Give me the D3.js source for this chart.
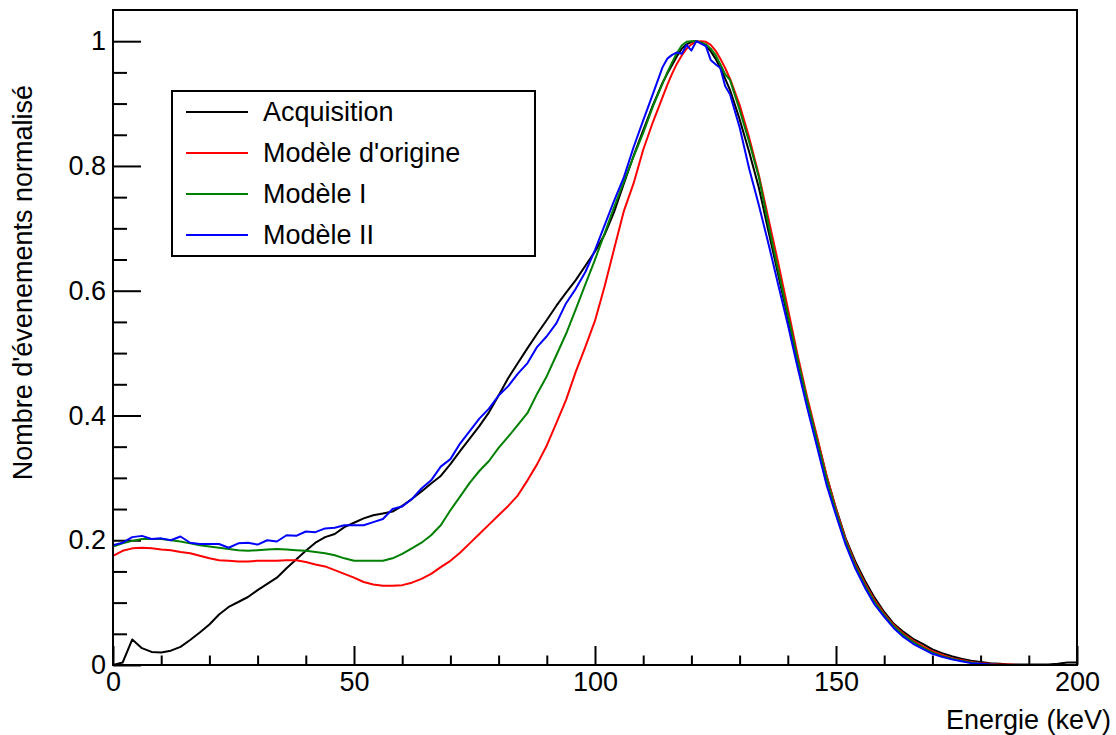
<!DOCTYPE html>
<html>
<head>
<meta charset="utf-8">
<script src="https://cdn.jsdelivr.net/npm/d3@7"></script>
<style>
  html, body { margin: 0; padding: 0; background: #fff; }
  svg { display: block; font-family: "Liberation Sans", Arial, Helvetica, sans-serif; }
  .tick text { font-size: 27px; fill: #000; }
</style>
</head>
<body>
<svg id="chart" width="1116" height="735"></svg>
<script>
// Energy grid (keV): 2 keV bins, 1 keV around the photopeak
const energy = [
  0,2,4,6,8,10,12,14,16,18,20,22,24,26,28,30,32,34,36,38,40,42,44,46,48,50,52,54,56,58,
  60,62,64,66,68,70,72,74,76,78,80,82,84,86,88,90,92,94,96,98,100,102,104,106,108,110,112,
  114,115,116,117,118,119,120,121,122,123,124,125,126,127,
  128,130,132,134,136,138,140,142,144,146,148,150,152,154,156,158,160,162,164,166,168,170,
  172,174,176,178,180,182,184,186,188,190,192,194,196,198,200
];

const acquisition = [
  0,0.004,0.041,0.027,0.021,0.020,0.023,0.029,0.040,0.052,0.065,0.081,0.093,0.101,0.109,0.120,0.130,0.140,0.155,0.169,
  0.183,0.196,0.205,0.210,0.221,0.228,0.235,0.240,0.243,0.246,
  0.255,0.266,0.278,0.291,0.303,0.322,0.343,0.363,0.383,0.405,0.432,0.460,0.484,0.508,0.531,0.553,0.576,0.597,0.617,0.640,
  0.663,0.690,0.727,0.772,0.816,0.857,0.897,
  0.933,0.948,0.962,0.976,0.988,0.995,0.999,1.0,0.998,0.993,0.984,0.972,0.957,0.940,
  0.922,0.875,0.822,0.765,0.695,0.626,0.557,0.489,0.425,0.366,0.304,0.251,0.203,0.166,0.135,0.108,0.085,0.066,0.053,0.042,0.034,0.025,
  0.019,0.014,0.010,0.007,0.005,0.003,0.002,0.001,0.001,0.001,0.001,0.001,0.002,0.004,0.004
];

const modeleOrigine = [
  0.175,0.183,0.187,0.188,0.187,0.185,0.184,0.181,0.179,0.175,0.171,0.168,0.167,0.166,0.166,0.167,0.167,0.167,0.168,0.168,
  0.165,0.161,0.158,0.152,0.146,0.140,0.133,0.129,0.127,0.127,
  0.128,0.132,0.138,0.146,0.157,0.167,0.180,0.195,0.210,0.225,0.240,0.255,0.272,0.296,0.322,0.352,0.388,0.425,0.470,0.510,
  0.552,0.607,0.668,0.728,0.772,0.826,0.870,
  0.910,0.930,0.948,0.964,0.977,0.988,0.995,0.999,1.0,0.999,0.994,0.985,0.972,0.957,
  0.940,0.898,0.845,0.785,0.715,0.645,0.572,0.498,0.430,0.368,0.305,0.250,0.201,0.162,0.131,0.104,0.082,0.064,0.050,0.039,0.030,0.022,
  0.016,0.011,0.008,0.005,0.003,0.002,0.001,0.001,0,0,0,0,0,0,0
];

const modeleI = [
  0.190,0.195,0.199,0.202,0.202,0.202,0.200,0.198,0.195,0.192,0.190,0.188,0.186,0.184,0.183,0.184,0.185,0.186,0.185,0.184,
  0.183,0.181,0.179,0.176,0.171,0.167,0.167,0.167,0.167,0.171,
  0.178,0.187,0.196,0.208,0.224,0.248,0.270,0.292,0.311,0.327,0.348,0.366,0.385,0.404,0.435,0.463,0.497,0.531,0.570,0.610,
  0.650,0.692,0.735,0.775,0.815,0.853,0.895,
  0.932,0.950,0.966,0.981,0.993,0.999,1.0,1.0,0.998,0.995,0.988,0.978,0.963,0.947,
  0.938,0.890,0.838,0.782,0.705,0.633,0.562,0.491,0.425,0.362,0.300,0.246,0.198,0.159,0.128,0.101,0.080,0.062,0.048,0.037,0.028,0.020,
  0.014,0.010,0.007,0.004,0.002,0.001,0,0,0,0,0,0,0,0,0
];

const modeleII = [
  0.192,0.196,0.205,0.207,0.202,0.203,0.200,0.206,0.196,0.194,0.194,0.194,0.188,0.195,0.196,0.193,0.200,0.198,0.208,0.207,
  0.214,0.213,0.219,0.220,0.224,0.224,0.224,0.229,0.234,0.250,
  0.254,0.266,0.283,0.296,0.318,0.330,0.355,0.375,0.395,0.411,0.432,0.447,0.467,0.484,0.510,0.527,0.548,0.580,0.603,0.630,
  0.665,0.705,0.745,0.782,0.830,0.873,0.915,
  0.958,0.972,0.978,0.982,0.980,0.994,0.985,1.0,0.996,0.992,0.970,0.963,0.957,0.928,
  0.915,0.862,0.795,0.737,0.675,0.610,0.546,0.478,0.413,0.352,0.290,0.240,0.193,0.155,0.124,0.097,0.077,0.059,0.045,0.034,0.026,0.018,
  0.013,0.009,0.006,0.003,0.002,0.001,0,0,0,0,0,0,0,0,0
];

const seriesNames = ["Acquisition", "Modèle d'origine", "Modèle I", "Modèle II"];
const seriesColors = ["#000000", "#ff0000", "#008000", "#0000ff"];
const seriesValues = [acquisition, modeleOrigine, modeleI, modeleII];

const xMajorTicks = [0, 50, 100, 150, 200];
const yMajorTicks = [0, 0.2, 0.4, 0.6, 0.8, 1];
const xTitle = "Energie (keV)";
const yTitle = "Nombre d'évenements normalisé";

(function draw() {
  const svg = d3.select("#chart");
  const plotLeft = 113, plotRight = 1077, plotTop = 10, plotBottom = 665;
  const fontSize = 27;

  const x = d3.scaleLinear().domain([0, 200]).range([plotLeft, plotRight]);
  const y = d3.scaleLinear().domain([0, 1.05]).range([plotBottom, plotTop]);

  // minor ticks: every 10 keV on x, every 0.05 on y
  const xMinor = d3.range(0, 201, 10).filter(v => v % 50 !== 0);
  const yMinor = d3.range(0, 21).map(i => i * 0.05).filter((v, i) => i % 4 !== 0);

  const fmtY = v => (v === 0 || v === 1) ? String(v) : d3.format(".1f")(v);

  function styleAxis(g) {
    g.select(".domain").remove();
    g.selectAll(".tick line").attr("stroke", "#000").attr("stroke-width", 2);
    g.attr("font-family", null).attr("font-size", null);
  }

  svg.append("g").attr("transform", `translate(0,${plotBottom})`)
    .call(d3.axisBottom(x).tickValues(xMinor).tickFormat("").tickSize(-9.5))
    .call(styleAxis);
  svg.append("g").attr("transform", `translate(0,${plotBottom})`)
    .call(d3.axisBottom(x).tickValues(xMajorTicks).tickFormat(d3.format("d")).tickSize(-19).tickPadding(7))
    .call(styleAxis);

  svg.append("g").attr("transform", `translate(${plotLeft},0)`)
    .call(d3.axisLeft(y).tickValues(yMinor).tickFormat("").tickSize(-14))
    .call(styleAxis);
  svg.append("g").attr("transform", `translate(${plotLeft},0)`)
    .call(d3.axisLeft(y).tickValues(yMajorTicks).tickFormat(fmtY).tickSize(-28).tickPadding(7))
    .call(styleAxis);

  // curves
  const plot = svg.append("g");
  const line = d3.line().x((d, i) => x(energy[i])).y(d => y(d));
  seriesValues.forEach((vals, k) => {
    plot.append("path")
      .datum(vals)
      .attr("fill", "none")
      .attr("stroke", seriesColors[k])
      .attr("stroke-width", 2)
      .attr("stroke-linejoin", "round")
      .attr("d", line);
  });

  // frame
  svg.append("rect")
    .attr("x", plotLeft).attr("y", plotTop)
    .attr("width", plotRight - plotLeft).attr("height", plotBottom - plotTop)
    .attr("fill", "none").attr("stroke", "#000").attr("stroke-width", 2);

  // axis titles
  svg.append("text")
    .attr("x", 1111).attr("y", 729)
    .attr("text-anchor", "end")
    .attr("font-size", fontSize)
    .text(xTitle);

  svg.append("text")
    .attr("transform", "translate(32,85) rotate(-90)")
    .attr("text-anchor", "end")
    .attr("font-size", fontSize)
    .text(yTitle);

  // legend
  const lg = svg.append("g");
  lg.append("rect")
    .attr("x", 172).attr("y", 91).attr("width", 363).attr("height", 165)
    .attr("fill", "#fff").attr("stroke", "#000").attr("stroke-width", 2);
  const rowY = [112, 153, 194, 235];
  seriesNames.forEach((name, k) => {
    lg.append("line")
      .attr("x1", 186).attr("x2", 248)
      .attr("y1", rowY[k]).attr("y2", rowY[k])
      .attr("stroke", seriesColors[k]).attr("stroke-width", 2);
    lg.append("text")
      .attr("x", 263).attr("y", rowY[k])
      .attr("dy", "0.35em")
      .attr("font-size", fontSize)
      .text(name);
  });
})();
</script>
</body>
</html>
